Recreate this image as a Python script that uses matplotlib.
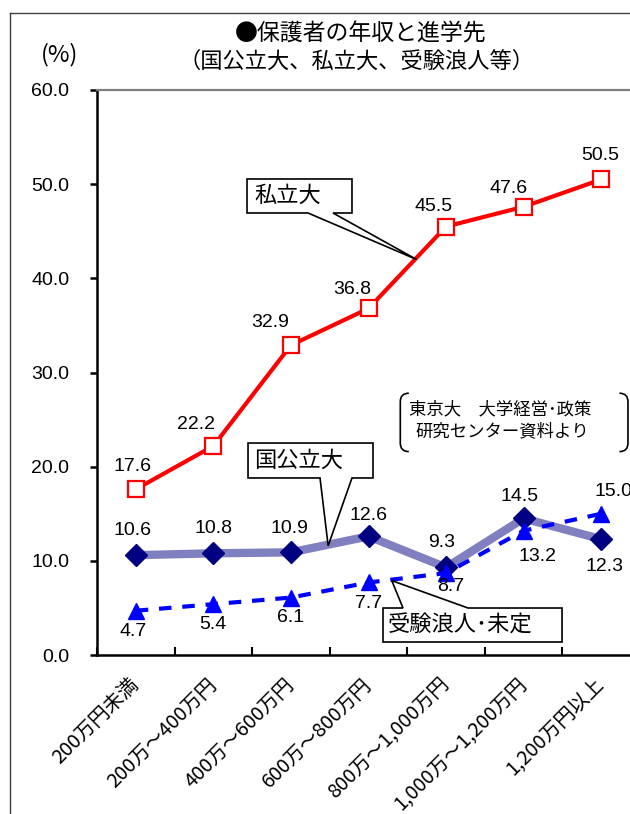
import numpy as np
import matplotlib
matplotlib.use('Agg')
import matplotlib.pyplot as plt
from matplotlib.patches import Polygon, PathPatch
from matplotlib.path import Path
from matplotlib.lines import Line2D

plt.rcParams['font.family'] = ['Liberation Sans', 'Noto Sans CJK JP']
CJK = ['Noto Sans CJK JP', 'Liberation Sans']

# income brackets
categories = ['200万円未満', '200万～400万円', '400万～600万円', '600万～800万円',
              '800万～1,000万円', '1,000万～1,200万円', '1,200万円以上']
private_univ = [17.6, 22.2, 32.9, 36.8, 45.5, 47.6, 50.5]
national_univ = [10.6, 10.8, 10.9, 12.6, 9.3, 14.5, 12.3]
ronin_undecided = [4.7, 5.4, 6.1, 7.7, 8.7, 13.2, 15.0]

# label offsets in pixels (dx, dy with y pointing down)
private_off = [(-3, -23), (-17, -21), (-21, -23), (-16, -19), (-13, -20), (-15, -18), (-1, -24)]
national_off = [(-3, -25), (0, -25), (-1, -24), (0, -21), (-4, -25), (-4, -22), (3, 27)]
ronin_off = [(-3, 21), (0, 20), (0, 20), (0, 21), (5, 13), (14, 26), (12, -22)]

fig = plt.figure(figsize=(6.3, 8.14), dpi=100)
W, H = 630, 814
ax = fig.add_axes([97 / W, 1 - 655 / H, 543 / W, 565 / H])

x = np.arange(len(categories))

ax.plot(x, national_univ, color='#8080c0', lw=6, marker='D', ms=11,
        mfc='#000080', mec='#000080', zorder=3)
ax.plot(x, ronin_undecided, color='#0000ff', lw=3, ls='--', dashes=(3, 2.6),
        marker='^', ms=12, mfc='#0000ff', mec='#0000ff', zorder=4)
ax.plot(x, private_univ, color='#ff0000', lw=3, marker='s', ms=11,
        mfc='white', mec='#ff0000', mew=1.6, zorder=5)


def value_labels(vals, offs):
    for xi, v, (dx, dy) in zip(x, vals, offs):
        ax.annotate(f'{v:.1f}', (xi, v), xytext=(dx * 0.72, -dy * 0.72),
                    textcoords='offset points', ha='center', va='center',
                    fontsize=14, zorder=6, annotation_clip=False)


value_labels(private_univ, private_off)
value_labels(national_univ, national_off)
value_labels(ronin_undecided, ronin_off)

ax.set_xlim(-0.5, 6.5)
ax.set_ylim(0, 60)
ax.set_yticks(np.arange(0, 61, 10))
ax.set_yticklabels([f'{t:.1f}' for t in np.arange(0, 61, 10)], fontsize=14)
ax.tick_params(axis='y', direction='out', length=5, width=1.8, pad=15)

ax.set_xticks(x)
ax.set_xticklabels(categories, rotation=45, ha='right', va='center',
                   rotation_mode='anchor', fontsize=14.3, family=CJK)
ax.tick_params(axis='x', which='major', length=0, pad=19)
ax.set_xticks(np.arange(-0.5, 7, 1), minor=True)
ax.tick_params(axis='x', which='minor', direction='in', length=6, width=1.5)

for side in ['left', 'bottom']:
    ax.spines[side].set_linewidth(1.8)
ax.spines['top'].set_color('#808080')
ax.spines['top'].set_linewidth(1.6)
ax.spines['right'].set_visible(False)


def callout(verts, text, tx, ty):
    ax.add_patch(Polygon(verts, closed=True, fc='white', ec='black', lw=1.2,
                         zorder=7, clip_on=False))
    ax.text(tx, ty, text, ha='left', va='center', fontsize=16, family=CJK,
            zorder=8, clip_on=False)


callout([(1.434, 50.55), (2.787, 50.55), (2.787, 46.94), (2.542, 46.94),
         (3.62, 42.0), (2.22, 46.94), (1.434, 46.94)], '私立大', 1.53, 48.8)
callout([(1.447, 22.51), (3.058, 22.51), (3.058, 18.80), (2.787, 18.80),
         (2.48, 11.6), (2.375, 18.80), (1.447, 18.80)], '国公立大', 1.53, 20.7)
callout([(3.187, 4.99), (3.445, 4.99), (3.30, 7.9), (4.283, 4.99),
         (5.495, 4.99), (5.495, 1.38), (3.187, 1.38)], '受験浪人･未定', 3.25, 3.15)

# source note inside bracket pair
x0, x1, yt, yb = 3.41, 6.345, 27.8, 21.6
rx, ry = 0.11, 0.9
left = Path([(x0 + rx, yt), (x0, yt), (x0, yt - ry), (x0, yb + ry), (x0, yb), (x0 + rx, yb)],
            [Path.MOVETO, Path.CURVE3, Path.CURVE3, Path.LINETO, Path.CURVE3, Path.CURVE3])
right = Path([(x1 - rx, yt), (x1, yt), (x1, yt - ry), (x1, yb + ry), (x1, yb), (x1 - rx, yb)],
             [Path.MOVETO, Path.CURVE3, Path.CURVE3, Path.LINETO, Path.CURVE3, Path.CURVE3])
for p in (left, right):
    ax.add_patch(PathPatch(p, fc='none', ec='black', lw=1.2, clip_on=False))
ax.text(4.70, 26.1, '東京大　大学経営･政策', ha='center', va='center',
        fontsize=12.5, family=CJK)
ax.text(4.72, 23.8, '研究センター資料より', ha='center', va='center',
        fontsize=12.5, family=CJK)

fig.text(361 / W, 1 - 34 / H, '●保護者の年収と進学先', ha='center', va='center',
         fontsize=16.5, family=CJK)
fig.text(357 / W, 1 - 61 / H, '（国公立大、私立大、受験浪人等）', ha='center',
         va='center', fontsize=16, family=CJK)
fig.text(60 / W, 1 - 55 / H, '(%)', ha='center', va='center', fontsize=17,
         family=CJK)

# outer chart frame
fig.add_artist(Line2D([10 / W, 10 / W], [0, 1 - 13 / H], color='#404040', lw=1))
fig.add_artist(Line2D([10 / W, 1], [1 - 13 / H, 1 - 13 / H], color='#404040', lw=1))

fig.savefig('out.png', dpi=100)
